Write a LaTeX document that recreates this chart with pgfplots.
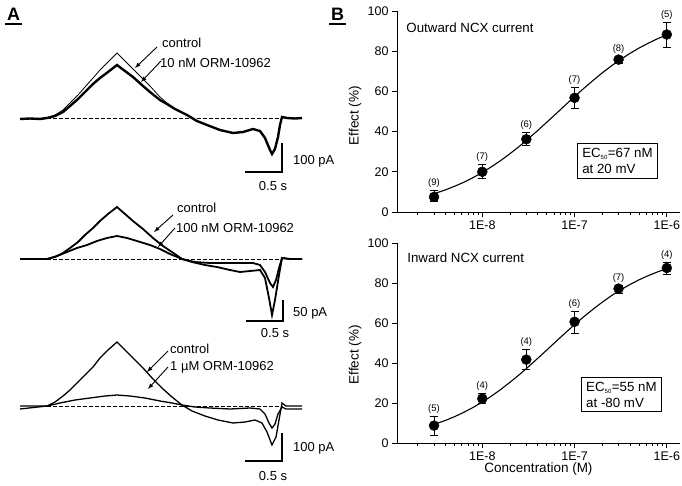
\documentclass[border=0pt]{standalone}
\usepackage{fontspec}
\setmainfont{Liberation Sans}
\usepackage{pgfplots}
\pgfplotsset{compat=1.18}
\tikzset{nlab/.style={font=\fontsize{9.5}{10}\selectfont, anchor=base, yshift=5pt},
  tl/.style={font=\fontsize{13}{15}\selectfont, inner sep=1pt}}
\begin{document}
\begin{tikzpicture}[x=1pt,y=1pt]
\useasboundingbox (0,0) rectangle (682,485);
% ---------------- Panel A ----------------
\begin{axis}[at={(0pt,0pt)}, anchor=south west, scale only axis,
  width=340pt, height=485pt, xmin=0, xmax=340, ymin=0, ymax=485,
  y dir=reverse, hide axis, clip=false]
% trace 1
\addplot[black, line width=0.6pt, dash pattern=on 3.5pt off 2.5pt] coordinates {(47,118) (283,118)};
\addplot[black, line width=0.8pt] coordinates {(20,119) (47,118) (55,115) (63,110) (70,103) (78,95) (85,87) (93,78) (100,70) (108,62) (117,53) (125,61) (133,69) (143,79) (150,86) (160,97) (167,103) (175,109)};
\addplot[black, line width=2.4pt] coordinates {(20,119) (30,118.5) (40,119) (47,118) (55,116) (63,112) (70,106) (78,99) (85,92) (93,84) (100,78) (108,72) (117,65) (125,71) (133,77) (143,86) (150,92) (160,100) (167,104) (175,109) (187,115) (197,121) (207,125) (220,130) (233,133) (243,132) (253,129) (260,131) (265,138) (270,150) (272,154) (275,149) (278,137) (280,125) (282,117) (287,118) (295,118.5) (302,118)};
\addplot[black, line width=1.2pt] coordinates {(282,143) (282,172) (245,172)};
\node[tl, anchor=west] at (axis cs:161,43) {control};
\node[tl, anchor=west] at (axis cs:159,63) {10 nM ORM-10962};
\draw[-latex, line width=0.9pt] (axis cs:157,47) -- (axis cs:135,68);
\draw[-latex, line width=0.9pt] (axis cs:161,61) -- (axis cs:141,82);
\node[tl, anchor=west] at (axis cs:292,161) {100 pA};
\node[tl] at (axis cs:273,186) {0.5 s};
% trace 2
\addplot[black, line width=0.6pt, dash pattern=on 3.5pt off 2.5pt] coordinates {(47,259) (283,259)};
\addplot[black, line width=1.8pt] coordinates {(20,259) (47,259) (55,257) (63,253) (70,248) (78,242) (85,235) (93,228) (100,221) (108,214) (117,207) (125,214) (133,221) (143,229) (153,238) (163,246) (172,252) (182,259) (192,262) (205,265) (217,267) (230,270) (240,272) (250,271) (260,270) (265,278) (269,298) (272,315) (275,300) (279,275) (282,258) (290,259) (302,259)};
\addplot[black, line width=1.8pt] coordinates {(20,259) (47,259) (57,256) (67,252) (77,248) (87,245) (97,241) (107,238) (117,236) (127,238) (137,241) (150,245) (160,249) (170,254) (182,259) (195,262) (210,263) (225,263) (240,263) (253,263) (260,265) (265,272) (270,283) (273,287) (276,280) (279,268) (282,258) (290,259) (302,259)};
\addplot[black, line width=1.2pt] coordinates {(283,300) (283,321) (246,321)};
\node[tl, anchor=west] at (axis cs:176,208) {control};
\node[tl, anchor=west] at (axis cs:175,228) {100 nM ORM-10962};
\draw[-latex, line width=0.9pt] (axis cs:173,215) -- (axis cs:154,232);
\draw[-latex, line width=0.9pt] (axis cs:175,228) -- (axis cs:158,247);
\node[tl, anchor=west] at (axis cs:292,313) {50 pA};
\node[tl] at (axis cs:275,333) {0.5 s};
% trace 3
\addplot[black, line width=0.6pt, dash pattern=on 3.5pt off 2.5pt] coordinates {(47,406) (283,406)};
\addplot[black, line width=1.3pt] coordinates {(20,406) (47,406) (55,402) (63,396) (70,390) (78,382) (85,375) (93,367) (100,358) (108,350) (117,342) (125,350) (133,358) (143,368) (153,379) (163,389) (172,397) (182,405) (192,411) (205,416) (218,420) (233,423) (245,422) (255,420) (262,423) (267,432) (272,445) (276,437) (279,420) (282,403) (286,406) (302,406)};
\addplot[black, line width=1.3pt] coordinates {(20,409) (47,406) (60,403) (75,400) (90,398) (105,396) (117,395) (130,396) (145,398) (160,401) (172,403) (182,405) (195,407) (210,408) (230,409) (250,408) (260,409) (265,414) (269,423) (272,428) (275,424) (278,414) (282,407) (286,409) (302,409)};
\addplot[black, line width=1.2pt] coordinates {(282,433) (282,461) (245,461)};
\node[tl, anchor=west] at (axis cs:169,349) {control};
\node[tl, anchor=west] at (axis cs:169,367) {1 µM ORM-10962};
\draw[-latex, line width=0.9pt] (axis cs:168,351) -- (axis cs:147,372);
\draw[-latex, line width=0.9pt] (axis cs:168,367) -- (axis cs:148,389);
\node[tl, anchor=west] at (axis cs:292,448) {100 pA};
\node[tl] at (axis cs:273,476) {0.5 s};
% panel letters
\node[font=\fontsize{18}{20}\selectfont\bfseries] at (axis cs:13.5,14) {A};
\draw[line width=1.3pt] (axis cs:5,24) -- (axis cs:22,24);
\node[font=\fontsize{18}{20}\selectfont\bfseries] at (axis cs:337.5,14) {B};
\draw[line width=1.3pt] (axis cs:329,24) -- (axis cs:346,24);
\end{axis}
% ---------------- Panel B (top) ----------------
\begin{axis}[at={(397pt,273pt)}, anchor=south west, height=201pt,
    scale only axis, width=283pt, xmode=log,
    xmin=1.19e-9, xmax=1.39e-6, ymin=0, ymax=100,
    axis lines=left, axis line style={-, line width=0.9pt},
    tick align=outside, tick style={black, line width=0.8pt},
    major tick length=5pt, minor tick length=3pt,
    xtick={1e-8,1e-7,1e-6}, xticklabels={1E-8,1E-7,1E-6},
    minor xtick={2e-9,3e-9,4e-9,5e-9,6e-9,7e-9,8e-9,9e-9,2e-8,3e-8,4e-8,5e-8,6e-8,7e-8,8e-8,9e-8,2e-7,3e-7,4e-7,5e-7,6e-7,7e-7,8e-7,9e-7},
    ytick={0,20,40,60,80,100},
    /pgf/number format/assume math mode=true,
    tick label style={font=\fontsize{12.5}{14}\selectfont},
    label style={font=\fontsize{13.5}{15}\selectfont},
    clip=false,
  ylabel={Effect (\%)}, ylabel style={at={(axis description cs:-0.148,0.48)}, anchor=center}]
\addplot[black, line width=1.1pt, no marks] coordinates {
(3e-9,9.1) (3.981e-9,11.0) (5.012e-9,12.8) (6.310e-9,14.8) (7.943e-9,17.1) (1e-8,19.7)
(1.259e-8,22.5) (1.585e-8,25.6) (1.995e-8,29.0) (2.512e-8,32.6) (3.162e-8,36.5) (3.981e-8,40.5)
(5.012e-8,44.7) (6.310e-8,48.9) (7.943e-8,53.2) (1e-7,57.4) (1.259e-7,61.5) (1.585e-7,65.4)
(1.995e-7,69.2) (2.512e-7,72.7) (3.162e-7,75.9) (3.981e-7,78.9) (5.012e-7,81.6) (6.310e-7,84.0)
(7.943e-7,86.2) (1e-6,88.1)};
\addplot[black, mark=*, mark size=5pt, only marks, mark options={fill=black},
    error bars/.cd, y dir=both, y explicit,
    error bar style={line width=1pt, black},
    error mark options={rotate=90, mark size=4pt, line width=1pt, black}]
  table[x=x, y=y, y error plus=ep, y error minus=em] {
x y ep em
3e-9 7.5 3.0 2.5
1e-8 20.0 3.6 3.4
3e-8 36.2 3.3 3.3
1e-7 56.8 5.2 5.5
3e-7 75.8 1.8 1.9
1e-6 88.3 6.2 6.4
};
\node[nlab] at (axis cs:3e-9,10.5) {(9)};
\node[nlab] at (axis cs:1e-8,23.6) {(7)};
\node[nlab] at (axis cs:3e-8,39.5) {(6)};
\node[nlab] at (axis cs:1e-7,62.0) {(7)};
\node[nlab] at (axis cs:3e-7,77.6) {(8)};
\node[nlab] at (axis cs:1e-6,94.5) {(5)};
\node[anchor=west, font=\fontsize{13.3}{15}\selectfont] at (axis description cs:0.021,0.915) {Outward NCX current};
\node[draw, line width=0.8pt, align=left, inner sep=4.5pt, font=\fontsize{13.3}{16}\selectfont] at (axis description cs:0.779,0.254) {EC\textsubscript{\fontsize{6}{6}\selectfont 50}=67 nM\\at 20 mV};
\end{axis}
% ---------------- Panel B (bottom) ----------------
\begin{axis}[at={(397pt,42pt)}, anchor=south west, height=200pt,
    scale only axis, width=283pt, xmode=log,
    xmin=1.19e-9, xmax=1.39e-6, ymin=0, ymax=100,
    axis lines=left, axis line style={-, line width=0.9pt},
    tick align=outside, tick style={black, line width=0.8pt},
    major tick length=5pt, minor tick length=3pt,
    xtick={1e-8,1e-7,1e-6}, xticklabels={1E-8,1E-7,1E-6},
    minor xtick={2e-9,3e-9,4e-9,5e-9,6e-9,7e-9,8e-9,9e-9,2e-8,3e-8,4e-8,5e-8,6e-8,7e-8,8e-8,9e-8,2e-7,3e-7,4e-7,5e-7,6e-7,7e-7,8e-7,9e-7},
    ytick={0,20,40,60,80,100},
    /pgf/number format/assume math mode=true,
    tick label style={font=\fontsize{12.5}{14}\selectfont},
    label style={font=\fontsize{13.5}{15}\selectfont},
    clip=false,
  ylabel={Effect (\%)}, ylabel style={at={(axis description cs:-0.148,0.44)}, anchor=center},
  xlabel={Concentration (M)}, xlabel style={yshift=5pt}]
\addplot[black, line width=1.1pt, no marks] coordinates {
(3e-9,9.29) (3.981e-9,11.29) (5.012e-9,13.18) (6.310e-9,15.34) (7.943e-9,17.77) (1e-8,20.47)
(1.259e-8,23.48) (1.585e-8,26.76) (1.995e-8,30.35) (2.512e-8,34.12) (3.162e-8,38.13) (3.981e-8,42.29)
(5.012e-8,46.53) (6.310e-8,50.82) (7.943e-8,55.05) (1e-7,59.17) (1.259e-7,63.15) (1.585e-7,66.87)
(1.995e-7,70.39) (2.512e-7,73.66) (3.162e-7,76.59) (3.981e-7,79.23) (5.012e-7,81.61) (6.310e-7,83.71)
(7.943e-7,85.55) (1e-6,87.17)};
\addplot[black, mark=*, mark size=5pt, only marks, mark options={fill=black},
    error bars/.cd, y dir=both, y explicit,
    error bar style={line width=1pt, black},
    error mark options={rotate=90, mark size=4pt, line width=1pt, black}]
  table[x=x, y=y, y error plus=ep, y error minus=em] {
x y ep em
3e-9 8.7 4.6 5.0
1e-8 22.2 2.5 2.5
3e-8 41.7 5.0 4.7
1e-7 60.6 5.0 5.6
3e-7 77.2 1.6 2.2
1e-6 87.5 2.8 3.0
};
\node[nlab] at (axis cs:3e-9,13.3) {(5)};
\node[nlab] at (axis cs:1e-8,24.7) {(4)};
\node[nlab] at (axis cs:3e-8,46.7) {(4)};
\node[nlab] at (axis cs:1e-7,65.6) {(6)};
\node[nlab] at (axis cs:3e-7,78.8) {(7)};
\node[nlab] at (axis cs:1e-6,90.3) {(4)};
\node[anchor=west, font=\fontsize{13.3}{15}\selectfont] at (axis description cs:0.024,0.925) {Inward NCX current};
\node[draw, line width=0.8pt, align=left, inner sep=4.5pt, font=\fontsize{13.3}{16}\selectfont] at (axis description cs:0.793,0.2425) {EC\textsubscript{\fontsize{6}{6}\selectfont 50}=55 nM\\at -80 mV};
\end{axis}
\end{tikzpicture}
\end{document}
